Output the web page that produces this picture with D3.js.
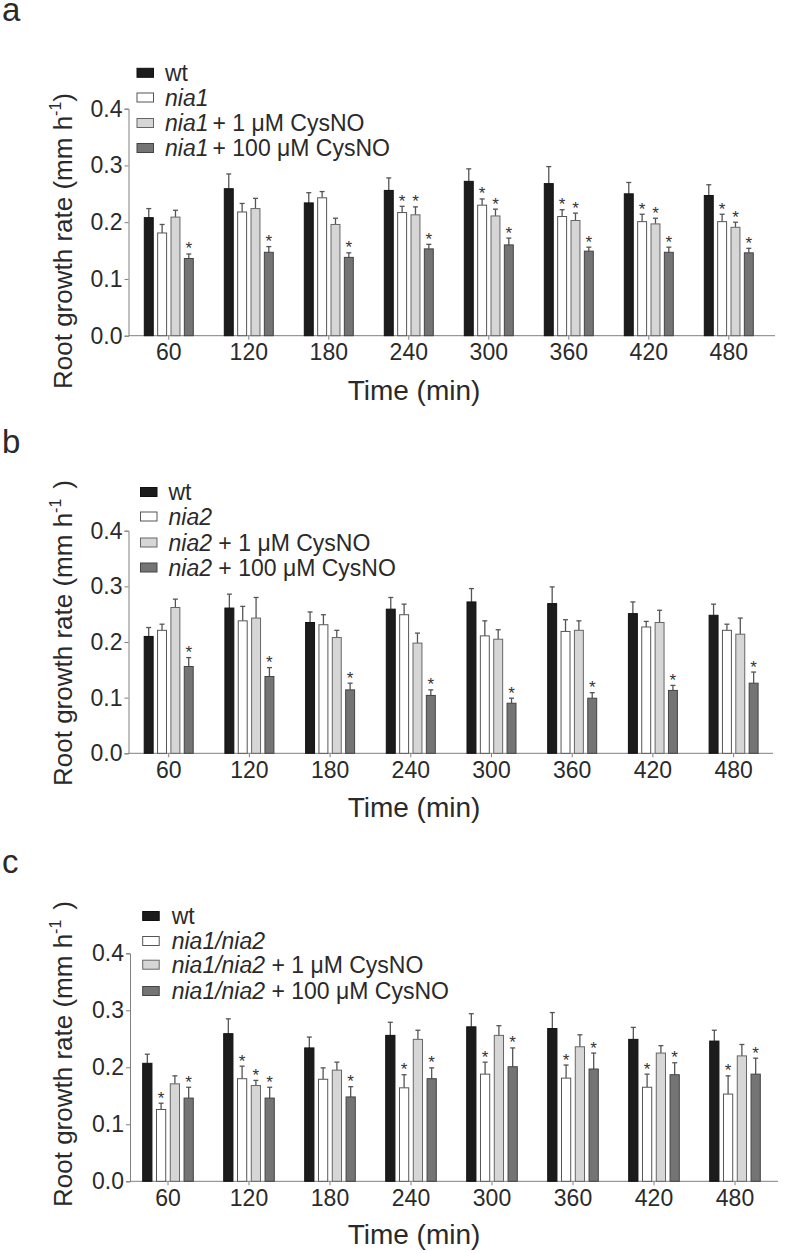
<!DOCTYPE html>
<html><head><meta charset="utf-8">
<script src="https://cdn.jsdelivr.net/npm/d3@7"></script>
<style>
body{margin:0;background:#fff;}
text{font-family:"Liberation Sans",Arial,Helvetica,sans-serif;}
</style></head>
<body>
<script>
// ---------- data ----------
const times = ["60","120","180","240","300","360","420","480"];
const yTicks = [0.0, 0.1, 0.2, 0.3, 0.4];

// panel a (nia1)
const aWt       = [0.208,0.259,0.234,0.256,0.272,0.268,0.250,0.247];
const aWtSE     = [0.016,0.026,0.018,0.022,0.022,0.030,0.020,0.019];
const aMut      = [0.181,0.218,0.243,0.217,0.230,0.210,0.201,0.201];
const aMutSE    = [0.015,0.015,0.011,0.011,0.011,0.012,0.013,0.013];
const aCys1     = [0.209,0.224,0.196,0.213,0.211,0.203,0.197,0.191];
const aCys1SE   = [0.012,0.018,0.011,0.014,0.012,0.013,0.010,0.009];
const aCys100   = [0.136,0.147,0.138,0.153,0.160,0.149,0.147,0.146];
const aCys100SE = [0.008,0.010,0.008,0.008,0.012,0.007,0.009,0.008];
const aSigMut    = [0,0,0,1,1,1,1,1];
const aSigCys1   = [0,0,0,1,1,1,1,1];
const aSigCys100 = [1,1,1,1,1,1,1,1];

// panel b (nia2)
const bWt       = [0.210,0.261,0.235,0.259,0.272,0.269,0.251,0.248];
const bWtSE     = [0.016,0.025,0.019,0.021,0.024,0.030,0.021,0.020];
const bMut      = [0.221,0.238,0.231,0.249,0.211,0.219,0.227,0.221];
const bMutSE    = [0.011,0.026,0.018,0.019,0.027,0.021,0.010,0.011];
const bCys1     = [0.262,0.243,0.208,0.198,0.205,0.221,0.235,0.214];
const bCys1SE   = [0.015,0.037,0.013,0.018,0.017,0.017,0.022,0.029];
const bCys100   = [0.156,0.138,0.114,0.104,0.090,0.099,0.113,0.126];
const bCys100SE = [0.016,0.016,0.012,0.010,0.009,0.010,0.009,0.020];
const bSigMut    = [0,0,0,0,0,0,0,0];
const bSigCys1   = [0,0,0,0,0,0,0,0];
const bSigCys100 = [1,1,1,1,1,1,1,1];

// panel c (nia1/nia2)
const cWt       = [0.207,0.259,0.234,0.256,0.271,0.268,0.249,0.246];
const cWtSE     = [0.016,0.026,0.019,0.023,0.023,0.028,0.021,0.019];
const cMut      = [0.126,0.180,0.179,0.164,0.188,0.181,0.165,0.153];
const cMutSE    = [0.011,0.022,0.020,0.023,0.021,0.023,0.023,0.032];
const cCys1     = [0.171,0.168,0.195,0.249,0.256,0.236,0.225,0.220];
const cCys1SE   = [0.014,0.009,0.014,0.016,0.017,0.021,0.013,0.020];
const cCys100   = [0.146,0.146,0.148,0.180,0.201,0.197,0.187,0.188];
const cCys100SE = [0.019,0.019,0.018,0.019,0.033,0.028,0.021,0.028];
const cSigMut    = [1,1,0,1,1,1,1,1];
const cSigCys1   = [0,1,0,0,0,0,0,0];
const cSigCys100 = [1,1,1,1,1,1,1,1];

const seriesKeys = ["wt","mut","cys1","cys100"];
const legendA = [["","wt"],["nia1",""],["nia1","+ 1 μM CysNO"],["nia1","+ 100 μM CysNO"]];
const legendB = [["","wt"],["nia2",""],["nia2"," + 1 μM CysNO"],["nia2"," + 100 μM CysNO"]];
const legendC = [["","wt"],["nia1/nia2",""],["nia1/nia2"," + 1 μM CysNO"],["nia1/nia2"," + 100 μM CysNO"]];

// ---------- styles ----------
const fills   = ["#1c1c1c","#ffffff","#d6d6d6","#747474"];
const strokes = ["#111111","#555555","#666666","#444444"];
const axisCol = "#808080";
const textCol = "#2a2a2a";

const svg = d3.select("body").append("svg").attr("width",800).attr("height",1253);

const panels = [
  {letter:"a", letterY:21, yZero:335.7, yTop:108.7, axisX:128.5, xRange:[128.8,768.8], axisEnd:775, half:24.5,
   legX:137, legTX:165, legRows:[72.8,97.5,123,148], legend:legendA, titleY:241, closeGap:0, timeY:400,
   vals:[aWt,aMut,aCys1,aCys100], se:[aWtSE,aMutSE,aCys1SE,aCys100SE], sig:[null,aSigMut,aSigCys1,aSigCys100]},
  {letter:"b", letterY:453, yZero:753.3, yTop:530.7, axisX:128.5, xRange:[128.35,773.95], axisEnd:773, half:24.5,
   legX:140.5, legTX:168.5, legRows:[492,516.5,542.5,567.5], legend:legendB, titleY:633, closeGap:10, timeY:817,
   vals:[bWt,bMut,bCys1,bCys100], se:[bWtSE,bMutSE,bCys1SE,bCys100SE], sig:[null,bSigMut,bSigCys1,bSigCys100]},
  {letter:"c", letterY:873, yZero:1181.3, yTop:953.3, axisX:130, xRange:[127.5,775.5], axisEnd:778, half:25.3,
   legX:142.7, legTX:171.7, legRows:[916,941,964.7,991], legend:legendC, titleY:1054, closeGap:10, timeY:1244,
   vals:[cWt,cMut,cCys1,cCys100], se:[cWtSE,cMutSE,cCys1SE,cCys100SE], sig:[null,cSigMut,cSigCys1,cSigCys100]}
];

panels.forEach(p => {
  const g = svg.append("g");
  const x = d3.scaleBand().domain(times).range(p.xRange).padding(0);
  const inner = d3.scaleBand().domain(seriesKeys)
      .range([x.bandwidth()/2 - p.half, x.bandwidth()/2 + p.half]).paddingInner(0.33).paddingOuter(0);
  const y = d3.scaleLinear().domain([0,0.4]).range([p.yZero, p.yTop]);

  // panel letter
  g.append("text").attr("x",2).attr("y",p.letterY).attr("font-size",33).attr("fill",textCol).text(p.letter);

  // y axis
  const ya = g.append("g").attr("transform",`translate(${p.axisX},0)`)
    .call(d3.axisLeft(y).tickValues(yTicks).tickFormat(d3.format(".1f")).tickSizeOuter(0).tickSize(4).tickPadding(2));
  ya.select(".domain").attr("stroke",axisCol);
  ya.selectAll(".tick line").attr("stroke",axisCol);
  ya.selectAll(".tick text").attr("font-size",23).attr("fill",textCol)
    .attr("font-family","'Liberation Sans',Arial,sans-serif");

  // x axis
  const xa = g.append("g").attr("transform",`translate(0,${p.yZero})`)
    .call(d3.axisBottom(x).tickSizeOuter(0).tickSize(4).tickPadding(4));
  xa.select(".domain").attr("d",`M${p.axisX},0H${p.axisEnd}`).attr("stroke",axisCol);
  xa.selectAll(".tick line").attr("stroke",axisCol);
  xa.selectAll(".tick text").attr("font-size",23).attr("fill",textCol)
    .attr("font-family","'Liberation Sans',Arial,sans-serif");

  // bars
  seriesKeys.forEach((k,si) => {
    const gs = g.append("g");
    times.forEach((t,i) => {
      const v = p.vals[si][i], e = p.se[si][i];
      const bx = x(t) + inner(k), bw = inner.bandwidth();
      const cx = bx + bw/2;
      // error bar
      gs.append("line").attr("x1",cx).attr("x2",cx).attr("y1",y(v)).attr("y2",y(v+e))
        .attr("stroke","#555").attr("stroke-width",1.3);
      gs.append("line").attr("x1",cx-2.5).attr("x2",cx+2.5).attr("y1",y(v+e)).attr("y2",y(v+e))
        .attr("stroke","#555").attr("stroke-width",1.3);
      gs.append("rect").attr("x",bx).attr("y",y(v)).attr("width",bw).attr("height",y(0)-y(v))
        .attr("fill",fills[si]).attr("stroke",strokes[si]).attr("stroke-width",1);
      if (p.sig[si] && p.sig[si][i]) {
        gs.append("text").attr("x",cx).attr("y",y(v+e)+0.5).attr("text-anchor","middle")
          .attr("font-size",17).attr("fill","#333").text("*");
      }
    });
  });

  // legend
  p.legend.forEach((l,i) => {
    const cy = p.legRows[i];
    g.append("rect").attr("x",p.legX).attr("y",cy-4.5).attr("width",16.5).attr("height",9)
      .attr("fill",fills[i]).attr("stroke",strokes[i]).attr("stroke-width",1);
    const t = g.append("text").attr("x",p.legTX).attr("y",cy+8).attr("font-size",23).attr("fill",textCol);
    if (l[0]) t.append("tspan").attr("font-style","italic").text(l[0]);
    if (l[1]) {
      const ts = t.append("tspan").text(l[1]);
      if (l[0] && p.letter==="a") ts.attr("dx",4);
    }
  });

  // y title
  const yt = g.append("text").attr("transform",`translate(72,${p.titleY}) rotate(-90)`)
    .attr("text-anchor","middle").attr("font-size",26).attr("fill",textCol);
  yt.append("tspan").text("Root growth rate (mm h");
  yt.append("tspan").attr("font-size",16).attr("dy",-11).text("-1");
  yt.append("tspan").attr("dy",11).attr("dx",p.closeGap).text(")");

  // x title
  g.append("text").attr("x",414).attr("y",p.timeY).attr("text-anchor","middle")
    .attr("font-size",28).attr("fill",textCol).text("Time (min)");
});
</script>
</body></html>
